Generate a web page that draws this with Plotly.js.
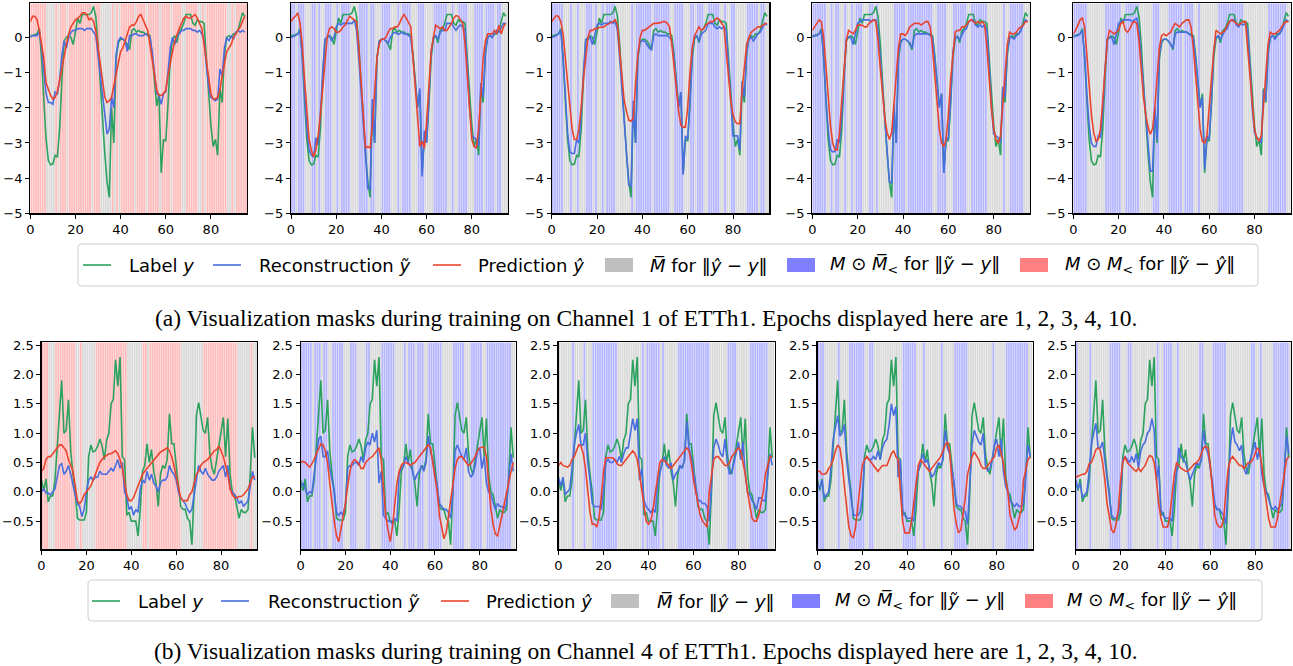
<!DOCTYPE html>
<html><head><meta charset="utf-8">
<script src="https://cdn.plot.ly/plotly-3.0.1.min.js"></script>
<style>html,body{margin:0;padding:0;background:#fff;}#chart{width:1293px;height:666px;}</style>
</head><body><div id="chart"></div>
<script>
// ---------- Row (a): Channel 1 ----------
const labelA = [0.05,0.05,0.08,0.1,0.25,-0.6,-1.8,-2.9,-3.5,-3.62,
 -3.6,-3.35,-3.4,-2.6,-1.2,-0.1,0.0,0.05,0.0,-0.2,
 0.15,0.55,0.4,0.65,0.65,0.65,0.65,0.7,0.88,0.6,
 -0.2,-1.3,-2.4,-3.3,-4.1,-4.55,-2.0,-3.0,-0.6,-0.15,
 -0.05,-0.05,-0.1,-0.2,-0.35,0.2,0.25,0.15,0.2,0.15,
 0.15,0.1,0.1,0.05,-0.5,-1.2,-1.95,-1.6,-3.85,-2.9,
 -2.95,-1.9,-0.6,-0.05,0.05,-0.15,0.2,0.25,0.4,0.65,
 0.65,0.65,0.4,0.35,0.5,0.45,0.45,0.4,-0.6,-1.6,
 -2.5,-3.1,-2.9,-3.35,-1.45,-1.85,-0.5,0.0,0.05,0.0,
 0.1,0.1,0.2,0.45,0.7,0.6];
const reconA1 = [0.0,0.05,0.05,0.05,0.15,-0.3,-1.0,-1.6,-1.85,-1.85,
 -1.9,-1.55,-1.6,-1.2,-0.5,-0.1,-0.3,0.0,0.15,0.2,
 0.2,0.25,0.25,0.25,0.2,0.25,0.25,0.25,0.15,0.05,
 -0.5,-1.1,-1.7,-2.3,-2.75,-2.6,-1.7,-2.0,-0.5,-0.1,
 0.0,-0.05,-0.1,-0.4,0.05,0.05,0.1,0.1,0.05,0.05,
 0.05,0.1,0.05,0.0,-0.4,-1.0,-1.6,-1.65,-1.9,-1.6,
 -1.55,-1.0,-0.3,0.0,-0.2,0.05,0.1,0.2,0.2,0.25,
 0.25,0.25,0.2,0.2,0.15,0.2,0.1,-0.1,-0.8,-1.4,
 -1.7,-1.75,-1.8,-1.75,-0.9,-1.1,-0.3,0.0,-0.1,0.05,
 -0.05,0.15,0.2,0.15,0.2,0.15];
const predA1 = [0.45,0.6,0.6,0.5,0.2,-0.2,-0.6,-1.3,-1.5,-1.65,
 -1.75,-1.7,-1.55,-1.2,-0.8,-0.5,-0.2,0.1,0.3,0.4,
 0.5,0.55,0.6,0.7,0.7,0.65,0.5,0.55,0.45,0.2,
 -0.3,-0.8,-1.3,-1.7,-1.85,-1.8,-1.7,-1.4,-1.0,-0.7,
 -0.4,-0.3,-0.1,0.05,0.3,0.35,0.35,0.45,0.6,0.65,
 0.5,0.35,0.2,-0.2,-0.6,-1.1,-1.5,-1.65,-1.65,-1.6,
 -1.5,-1.1,-0.7,-0.4,-0.1,0.1,0.25,0.4,0.55,0.6,
 0.55,0.55,0.6,0.65,0.55,0.4,0.25,-0.2,-0.7,-1.2,
 -1.6,-1.75,-1.75,-1.7,-1.5,-1.1,-0.7,-0.4,-0.3,-0.2,
 0.0,0.1,0.2,0.3,0.45,0.6];
const reconA2 = [0.0,0.02,0.05,0.1,0.2,-0.5,-1.7,-2.6,-3.2,-3.35,
 -3.4,-2.85,-3.05,-2.2,-1.0,-0.05,0.0,0.05,-0.1,0.0,
 0.3,0.4,0.35,0.4,0.4,0.4,0.4,0.4,0.5,0.2,
 -0.6,-1.5,-2.5,-3.5,-4.3,-4.3,-1.75,-3.0,-0.6,-0.1,
 -0.05,-0.05,-0.1,-0.15,0.0,0.1,0.15,0.1,0.1,0.15,
 0.1,0.1,0.05,0.0,-0.6,-1.4,-2.0,-1.45,-3.95,-2.65,
 -3.0,-1.8,-0.4,0.0,0.05,-0.05,0.15,0.2,0.2,0.4,
 0.4,0.4,0.3,0.2,0.3,0.35,0.3,0.2,-0.8,-2.0,
 -2.8,-2.85,-2.9,-3.1,-1.3,-1.7,-0.4,0.0,0.05,0.0,
 0.1,0.2,0.15,0.3,0.4,0.4];
const predA2 = [0.45,0.55,0.6,0.7,0.4,-0.2,-1.2,-2.2,-2.9,-3.2,
 -3.4,-3.2,-2.8,-2.2,-1.4,-0.6,0.0,0.25,0.3,0.25,
 0.15,0.15,0.2,0.3,0.35,0.5,0.6,0.55,0.5,0.45,
 -0.3,-1.2,-2.2,-3.15,-3.1,-3.15,-2.5,-1.5,-0.6,-0.2,
 -0.05,-0.05,0.0,0.15,0.25,0.25,0.3,0.3,0.4,0.55,
 0.65,0.55,0.4,0.3,-0.6,-1.5,-2.4,-3.1,-2.95,-3.15,
 -2.4,-1.3,-0.4,0.0,0.35,0.3,0.25,0.3,0.2,0.2,
 0.3,0.4,0.55,0.62,0.6,0.5,0.4,-0.2,-1.1,-2.2,
 -2.9,-3.1,-3.15,-2.6,-1.6,-0.6,-0.1,0.1,0.1,0.1,
 0.2,0.1,0.35,0.1,0.3,0.4];
const reconA3 = [0.0,0.02,0.05,0.1,0.2,-0.5,-1.7,-2.7,-3.25,-3.3,
 -3.3,-2.9,-3.0,-2.2,-1.0,-0.05,-0.05,0.0,-0.2,0.05,
 0.35,0.4,0.35,0.4,0.4,0.4,0.45,0.4,0.45,0.2,
 -0.6,-1.5,-2.5,-3.4,-4.2,-4.25,-1.8,-3.0,-0.5,-0.1,
 -0.1,-0.1,-0.2,-0.3,-0.35,0.05,0.1,0.05,0.05,0.05,
 0.05,0.05,0.0,-0.1,-0.6,-1.3,-2.0,-1.55,-3.9,-2.8,
 -2.9,-1.8,-0.4,0.0,0.05,-0.1,0.1,0.15,0.2,0.4,
 0.4,0.4,0.3,0.25,0.3,0.25,0.3,0.2,-0.8,-2.0,
 -2.8,-2.8,-2.8,-3.2,-1.25,-1.7,-0.4,-0.05,0.0,-0.1,
 0.0,0.1,0.15,0.3,0.4,0.35];
const predA3 = [0.45,0.55,0.62,0.6,0.45,0.1,-0.6,-1.4,-2.1,-2.6,
 -2.9,-2.9,-2.6,-2.0,-1.2,-0.5,0.0,0.2,0.2,0.25,
 0.25,0.28,0.3,0.3,0.35,0.38,0.4,0.45,0.5,0.35,
 -0.4,-1.2,-1.8,-2.1,-2.35,-2.38,-2.3,-1.3,-0.5,0.0,
 0.2,0.2,0.25,0.3,0.35,0.4,0.4,0.4,0.42,0.45,
 0.45,0.4,0.3,-0.2,-0.8,-1.5,-2.1,-2.5,-2.55,-2.55,
 -2.0,-1.0,-0.3,0.05,0.2,0.3,0.2,0.25,0.35,0.4,
 0.45,0.45,0.5,0.55,0.5,0.4,0.3,-0.4,-1.2,-1.8,
 -2.2,-2.4,-2.45,-2.45,-1.5,-0.8,-0.2,0.0,0.15,0.2,
 0.25,0.3,0.3,0.35,0.38,0.4];
const reconA4 = [0.0,0.05,0.05,0.1,0.2,-0.5,-1.7,-2.6,-3.2,-3.25,
 -3.25,-2.9,-3.0,-2.2,-1.0,-0.05,0.0,0.0,-0.2,0.1,
 0.4,0.45,0.5,0.5,0.5,0.5,0.45,0.5,0.5,0.2,
 -0.6,-1.5,-2.5,-3.4,-4.1,-4.15,-1.9,-3.0,-0.5,-0.1,
 -0.05,-0.05,-0.1,-0.15,-0.3,0.05,0.1,0.1,0.1,0.1,
 0.1,0.1,0.05,0.0,-0.6,-1.3,-2.0,-1.6,-3.85,-2.85,
 -2.9,-1.8,-0.4,0.0,0.0,-0.05,0.1,0.2,0.25,0.45,
 0.5,0.5,0.35,0.3,0.35,0.3,0.35,0.2,-0.8,-2.0,
 -2.75,-2.8,-2.85,-3.0,-1.4,-1.7,-0.4,0.0,0.0,-0.05,
 0.05,0.1,0.2,0.35,0.5,0.45];
const predA4 = [0.2,0.3,0.4,0.5,0.45,0.0,-0.8,-1.7,-2.5,-3.0,
 -3.2,-3.2,-2.7,-1.8,-0.8,-0.1,0.2,0.15,0.1,0.2,
 0.35,0.35,0.35,0.3,0.3,0.4,0.45,0.5,0.45,-0.1,
 -0.9,-1.7,-2.3,-2.7,-2.9,-2.7,-2.0,-1.1,-0.3,0.1,
 0.1,0.05,0.15,0.3,0.35,0.4,0.4,0.4,0.35,0.4,
 0.45,0.45,0.3,-0.3,-1.1,-1.9,-2.6,-3.0,-3.1,-2.9,
 -2.2,-1.2,-0.4,0.15,0.2,0.2,0.3,0.3,0.35,0.45,
 0.5,0.45,0.4,0.45,0.4,0.45,0.35,-0.3,-1.2,-2.0,
 -2.6,-2.9,-3.0,-2.8,-1.9,-0.9,-0.2,0.15,0.1,0.1,
 0.15,0.25,0.3,0.35,0.45,0.45];
const reconA5 = [0.0,0.05,0.05,0.1,0.2,-0.5,-1.6,-2.5,-3.0,-3.1,
 -3.1,-2.8,-2.85,-2.1,-0.9,-0.05,0.0,0.0,-0.2,0.1,
 0.4,0.45,0.5,0.5,0.5,0.5,0.45,0.5,0.55,0.2,
 -0.6,-1.5,-2.4,-3.2,-3.8,-3.8,-2.0,-2.9,-0.5,-0.1,
 -0.05,-0.05,-0.1,-0.2,-0.3,0.1,0.15,0.15,0.15,0.15,
 0.15,0.1,0.05,0.0,-0.6,-1.3,-2.0,-1.7,-3.75,-2.8,
 -2.9,-1.8,-0.4,0.0,0.05,-0.05,0.1,0.2,0.25,0.45,
 0.5,0.5,0.35,0.3,0.4,0.35,0.4,0.2,-0.8,-2.0,
 -2.7,-2.85,-2.9,-3.0,-1.5,-1.8,-0.4,0.0,0.05,-0.05,
 0.05,0.1,0.2,0.35,0.5,0.45];
const predA5 = [0.1,0.2,0.35,0.5,0.55,0.3,-0.5,-1.4,-2.2,-2.7,
 -2.95,-2.9,-2.6,-1.8,-0.8,-0.1,0.2,0.15,0.1,0.15,
 0.2,0.4,0.45,0.2,0.15,0.25,0.4,0.45,0.4,-0.1,
 -0.9,-1.7,-2.2,-2.55,-2.75,-2.6,-2.0,-1.1,-0.3,0.05,
 0.1,0.05,0.1,0.15,0.3,0.4,0.35,0.3,0.4,0.45,
 0.5,0.5,0.3,-0.3,-1.1,-1.9,-2.6,-2.95,-3.0,-2.8,
 -2.1,-1.2,-0.4,0.2,0.15,0.1,0.15,0.2,0.35,0.45,
 0.5,0.45,0.4,0.35,0.4,0.45,0.45,-0.3,-1.2,-2.0,
 -2.6,-2.85,-2.95,-2.8,-1.9,-0.9,-0.2,0.15,0.1,0.1,
 0.15,0.2,0.3,0.4,0.45,0.45];

// ---------- Row (b): Channel 4 ----------
const labelB = [0.2,0.02,0.22,-0.17,-0.07,-0.07,0.2,0.8,1.3,1.9,
 1.0,1.05,1.57,0.7,0.3,0.0,-0.45,-0.48,-0.48,-0.48,
 -0.35,0.6,0.8,0.68,0.7,0.78,0.9,0.78,0.55,0.88,
 1.0,1.5,1.58,2.25,1.8,2.3,0.6,0.55,-0.4,-0.35,
 -0.5,-0.5,-0.5,-0.75,-0.3,0.35,0.45,0.82,0.5,0.72,
 0.35,0.15,-0.25,0.3,0.45,0.4,0.55,1.33,0.82,0.82,
 0.5,0.1,-0.25,-0.3,-0.3,-0.45,-0.5,-0.9,0.0,1.3,
 1.52,1.25,1.05,1.0,1.27,0.65,0.4,0.3,0.55,0.8,
 1.0,1.27,0.6,1.25,0.3,0.0,-0.05,-0.25,-0.45,-0.3,
 -0.35,-0.35,-0.3,0.3,1.1,0.58];
const reconB1 = [0.0,0.05,-0.02,-0.02,-0.05,0.0,0.05,0.25,0.45,0.48,
 0.3,0.35,0.45,0.3,0.1,-0.05,-0.2,-0.25,-0.42,-0.3,
 0.0,0.2,0.25,0.2,0.25,0.25,0.35,0.3,0.3,0.3,
 0.35,0.4,0.35,0.45,0.55,0.4,0.5,0.0,-0.1,-0.3,
 -0.25,-0.4,-0.3,-0.35,0.05,0.2,0.15,0.35,0.2,0.3,
 0.15,0.1,0.0,0.15,0.2,0.2,0.25,0.45,0.35,0.3,
 0.2,0.0,-0.1,-0.15,-0.2,-0.3,-0.35,-0.3,0.0,0.2,
 0.45,0.35,0.3,0.4,0.3,0.25,0.2,0.2,0.25,0.35,
 0.4,0.45,0.25,0.45,0.05,0.0,-0.05,-0.1,-0.2,-0.15,
 -0.25,-0.2,-0.15,0.1,0.35,0.2];
const predB1 = [0.35,0.4,0.55,0.6,0.6,0.65,0.7,0.75,0.8,0.8,
 0.75,0.7,0.55,0.45,0.35,0.1,-0.15,-0.2,-0.15,-0.05,
 0.0,0.05,0.1,0.2,0.3,0.4,0.5,0.55,0.6,0.62,
 0.65,0.65,0.68,0.7,0.65,0.55,0.4,0.15,-0.05,-0.15,
 -0.15,-0.1,0.0,0.1,0.2,0.3,0.35,0.4,0.45,0.5,
 0.55,0.6,0.65,0.68,0.7,0.72,0.75,0.7,0.6,0.45,
 0.25,0.05,-0.1,-0.15,-0.15,-0.15,-0.05,0.0,0.15,0.3,
 0.35,0.45,0.5,0.52,0.55,0.6,0.65,0.7,0.72,0.78,
 0.7,0.6,0.45,0.3,0.05,-0.05,-0.1,-0.1,-0.08,-0.08,
 -0.05,0.0,0.05,0.15,0.25,0.25];
const reconB2 = [0.1,0.15,0.05,-0.05,0.0,-0.02,0.3,0.6,0.9,0.95,
 0.6,0.6,0.7,0.4,0.2,0.0,-0.35,-0.4,-0.35,-0.4,
 -0.2,0.4,0.45,0.45,0.5,0.5,0.45,0.6,0.5,0.75,
 0.85,0.8,1.0,0.85,1.05,0.15,0.35,-0.4,-0.45,-0.5,
 -0.5,-0.55,-0.45,-0.5,0.3,0.4,0.45,0.6,0.5,0.45,
 0.35,0.2,0.3,0.35,0.45,0.35,0.5,0.95,0.7,0.55,
 0.3,0.1,-0.2,-0.25,-0.3,-0.3,-0.35,-0.45,0.0,0.7,
 0.8,0.7,0.6,0.55,0.75,0.35,0.25,0.3,0.45,0.7,
 0.75,0.4,0.6,0.15,0.0,-0.05,-0.2,-0.3,-0.2,-0.25,
 -0.25,-0.3,-0.2,0.2,0.65,0.35];
const predB2 = [0.5,0.52,0.5,0.45,0.42,0.48,0.55,0.65,0.75,0.82,
 0.8,0.7,0.5,0.2,-0.2,-0.5,-0.75,-0.85,-0.65,-0.45,
 -0.2,0.1,0.35,0.5,0.55,0.52,0.48,0.4,0.4,0.5,
 0.55,0.58,0.6,0.65,0.7,0.75,0.55,0.0,-0.4,-0.65,
 -0.85,-0.6,-0.2,0.15,0.35,0.45,0.5,0.5,0.48,0.45,
 0.48,0.5,0.55,0.6,0.65,0.7,0.75,0.8,0.75,0.5,
 0.2,0.0,-0.4,-0.6,-0.8,-0.7,-0.4,-0.1,0.2,0.4,
 0.55,0.6,0.6,0.55,0.5,0.45,0.48,0.55,0.6,0.7,
 0.75,0.76,0.76,0.6,0.1,-0.3,-0.55,-0.72,-0.75,-0.6,
 -0.4,-0.2,0.0,0.2,0.35,0.5];
const reconB3 = [0.25,0.1,0.25,-0.05,0.0,0.05,0.4,0.8,1.0,1.15,
 0.8,0.8,1.0,0.5,0.2,-0.2,-0.25,-0.25,-0.25,-0.3,
 0.0,0.5,0.55,0.5,0.5,0.55,0.5,0.6,0.5,0.65,
 0.75,0.75,1.0,1.25,1.05,1.25,0.2,0.4,-0.15,-0.25,
 -0.3,-0.35,-0.3,-0.35,0.1,0.3,0.5,0.6,0.45,0.4,
 0.5,0.2,0.3,0.35,0.45,0.4,0.55,1.2,0.75,0.6,
 0.35,0.15,-0.15,-0.15,-0.2,-0.2,-0.25,-0.5,0.1,0.75,
 0.9,0.8,0.65,0.6,0.9,0.5,0.3,0.35,0.5,0.7,
 0.85,0.55,0.85,0.3,0.0,-0.05,-0.15,-0.2,-0.3,-0.1,
 -0.1,-0.15,-0.15,0.3,0.65,0.45];
const predB3 = [0.45,0.5,0.45,0.43,0.42,0.45,0.55,0.6,0.72,0.8,
 0.78,0.65,0.4,0.0,-0.35,-0.55,-0.55,-0.6,-0.45,-0.1,
 0.35,0.58,0.58,0.58,0.58,0.55,0.48,0.45,0.45,0.5,
 0.55,0.6,0.65,0.7,0.65,0.55,0.3,0.0,-0.3,-0.5,
 -0.55,-0.5,-0.3,0.0,0.3,0.5,0.55,0.52,0.5,0.45,
 0.4,0.45,0.5,0.55,0.6,0.65,0.72,0.75,0.7,0.5,
 0.2,0.0,-0.2,-0.4,-0.5,-0.55,-0.6,0.0,0.3,0.55,
 0.6,0.6,0.55,0.5,0.45,0.45,0.5,0.6,0.65,0.7,
 0.75,0.7,0.5,0.3,0.0,-0.2,-0.45,-0.5,-0.5,-0.4,
 -0.2,0.0,0.3,0.45,0.6,0.6];
const reconB4 = [0.15,0.05,0.2,-0.1,-0.05,0.0,0.4,0.9,1.1,1.3,
 0.95,1.0,1.15,0.55,0.2,-0.1,-0.4,-0.4,-0.4,-0.35,
 -0.1,0.55,0.6,0.55,0.55,0.6,0.55,0.7,0.55,0.75,
 0.85,0.9,1.15,1.5,1.3,1.45,0.25,0.55,-0.3,-0.4,
 -0.45,-0.45,-0.45,-0.5,0.1,0.35,0.5,0.65,0.5,0.55,
 0.4,0.25,0.3,0.4,0.5,0.45,0.55,1.05,0.75,0.65,
 0.4,0.15,-0.2,-0.25,-0.25,-0.3,-0.35,-0.55,0.1,0.8,
 1.05,0.95,0.85,0.8,1.0,0.45,0.35,0.4,0.55,0.8,
 0.9,0.6,0.9,0.35,0.1,0.0,-0.15,-0.2,-0.25,-0.2,
 -0.25,-0.25,-0.2,0.3,0.8,0.6];
const predB4 = [0.35,0.35,0.3,0.3,0.32,0.4,0.45,0.55,0.7,0.8,
 0.75,0.5,0.1,-0.3,-0.6,-0.75,-0.78,-0.6,-0.3,0.1,
 0.45,0.55,0.6,0.55,0.5,0.45,0.4,0.35,0.4,0.45,
 0.45,0.45,0.55,0.65,0.7,0.6,0.55,0.0,-0.5,-0.7,
 -0.7,-0.7,-0.5,-0.2,0.1,0.45,0.55,0.5,0.45,0.4,
 0.35,0.4,0.45,0.5,0.55,0.6,0.7,0.8,0.85,0.7,
 0.2,-0.3,-0.55,-0.7,-0.65,-0.4,-0.1,0.3,0.45,0.6,
 0.68,0.62,0.55,0.45,0.4,0.4,0.45,0.5,0.55,0.6,
 0.75,0.8,0.65,0.5,0.2,0.0,-0.4,-0.55,-0.65,-0.6,
 -0.45,-0.3,0.2,0.4,0.55,0.6];
const reconB5 = [0.2,0.05,0.15,-0.1,-0.05,0.0,0.35,0.8,1.0,1.17,
 0.75,0.75,0.85,0.55,0.2,-0.1,-0.4,-0.45,-0.45,-0.4,
 -0.1,0.55,0.6,0.55,0.5,0.6,0.5,0.65,0.4,0.7,
 0.8,0.85,1.0,1.05,1.25,1.05,0.2,0.45,-0.3,-0.4,
 -0.45,-0.45,-0.45,-0.5,0.1,0.35,0.75,0.6,0.55,0.5,
 0.35,0.2,0.3,0.4,0.5,0.45,0.55,1.05,0.75,0.65,
 0.4,0.15,-0.2,-0.3,-0.3,-0.35,-0.4,-0.55,0.1,0.8,
 1.1,0.85,0.8,0.7,0.8,0.4,0.3,0.45,0.55,0.7,
 0.85,0.55,0.75,0.3,0.1,0.0,-0.15,-0.25,-0.3,-0.25,
 -0.3,-0.25,-0.2,0.3,0.95,0.65];
const predB5 = [0.25,0.27,0.28,0.3,0.3,0.35,0.48,0.5,0.6,0.72,
 0.75,0.7,0.5,0.2,-0.2,-0.45,-0.65,-0.7,-0.55,-0.3,
 0.2,0.5,0.6,0.5,0.45,0.42,0.38,0.35,0.4,0.35,
 0.4,0.45,0.55,0.62,0.6,0.5,0.2,-0.2,-0.45,-0.6,
 -0.6,-0.6,-0.4,0.0,0.3,0.5,0.45,0.4,0.38,0.35,
 0.35,0.4,0.45,0.48,0.5,0.55,0.65,0.75,0.78,0.75,
 0.45,0.0,-0.4,-0.55,-0.6,-0.6,-0.45,0.0,0.4,0.55,
 0.6,0.55,0.5,0.45,0.45,0.4,0.45,0.5,0.5,0.55,
 0.65,0.75,0.7,0.45,0.1,-0.2,-0.45,-0.6,-0.6,-0.6,
 -0.45,-0.2,0.05,0.35,0.55,0.6];

// ---------- Masks: 0 = M-bar (gray), 1 = M (.) M<-bar (blue), 2 = M (.) M< (red) ----------
const maskA1 = [2,2,2,2,2,2,2,0,0,0, 0,2,0,2,2,2,0,2,2,2, 2,2,2,2,2,2,2,0,2,2, 2,0,0,0,0,0,2,0,2,0,
 2,2,2,2,2,2,0,2,2,2, 2,0,2,2,2,2,2,0,2,2, 2,2,0,2,2,2,2,0,0,2, 2,2,2,2,0,0,2,0,2,2,
 2,2,2,2,2,2,2,0,0,2, 0,2,2,2,2,2];
const maskA2 = [1,1,0,1,1,1,0,0,0,1, 1,0,1,0,0,1,1,1,0,0, 1,0,1,1,1,1,0,0,0,0, 1,1,1,1,0,1,1,0,0,0,
 1,1,1,1,0,0,0,1,0,1, 1,1,1,0,0,0,1,1,1,0, 0,0,0,1,1,1,1,1,1,0, 0,1,0,0,1,1,1,1,0,0,
 0,1,1,1,1,0,1,1,1,1, 0,1,1,0,0,0];
const maskA3 = [1,1,1,1,1,0,0,0,1,0, 0,1,0,0,0,1,1,1,0,1, 0,0,1,0,1,1,1,1,0,0, 0,0,0,0,0,1,0,1,1,1,
 1,1,1,1,0,1,1,1,1,1, 1,1,0,0,1,1,1,1,0,0, 0,1,1,0,1,1,1,0,0,1, 1,1,1,1,0,0,1,0,0,1,
 1,0,0,0,0,0,1,1,1,1, 1,0,1,1,0,0];
const maskA4 = [1,1,1,1,1,1,0,0,1,0, 1,1,0,0,1,0,0,1,0,1, 1,1,0,0,0,1,1,0,1,0, 0,0,0,0,0,0,1,1,1,1,
 1,0,1,1,1,1,1,1,1,1, 1,1,1,0,0,1,1,1,1,0, 0,0,1,1,1,1,1,1,0,0, 1,1,1,1,1,1,1,0,0,0,
 0,0,0,0,1,0,0,1,1,1, 1,1,1,0,0,0];
const maskA5 = [1,1,1,1,1,1,0,0,0,0, 0,0,0,0,1,1,1,1,1,1, 1,0,0,1,1,1,1,1,1,0, 0,0,0,0,0,1,1,1,0,0,
 0,0,1,1,1,1,1,1,0,1, 1,1,1,0,0,1,0,0,0,0, 0,0,0,0,1,1,1,1,1,1, 1,1,1,1,1,0,0,0,0,0,
 0,0,0,0,0,0,1,1,1,1, 1,1,1,1,0,0];
const maskB1 = [2,2,2,0,0,0,2,2,2,2, 2,2,2,2,2,0,0,2,0,0, 0,0,0,0,2,2,2,2,2,2, 2,2,2,2,2,2,2,2,0,0,
 0,0,0,0,0,2,2,0,2,2, 2,2,2,2,2,2,2,2,2,2, 2,2,0,0,0,0,0,0,0,0, 0,0,2,2,2,2,2,2,2,2,
 2,2,2,2,2,2,2,0,0,0, 0,0,0,2,0,0];
const maskB2 = [1,1,1,1,1,0,1,1,1,0, 1,1,0,0,1,1,1,1,1,0, 0,0,1,1,1,0,0,0,0,1, 1,0,0,0,0,0,1,1,1,1,
 1,1,0,0,0,0,1,0,1,1, 1,0,1,1,1,0,0,1,1,1, 1,1,1,0,0,0,0,0,1,1, 1,1,1,0,0,0,1,1,1,1,
 1,0,0,1,1,1,1,1,1,1, 1,1,1,1,0,0];
const maskB3 = [0,0,0,0,0,0,1,0,0,0, 0,1,0,0,0,1,1,1,1,1, 1,1,1,1,1,1,0,0,0,0, 0,0,0,0,0,0,0,1,0,1,
 1,1,1,1,1,0,1,0,0,0, 0,0,0,1,1,1,1,1,1,1, 1,1,1,1,1,1,1,0,0,0, 0,0,0,0,0,1,1,1,1,0,
 0,0,0,0,0,1,1,1,1,1, 1,1,1,0,0,0];
const maskB4 = [1,1,1,0,0,0,0,0,0,1, 0,0,0,0,1,1,1,1,1,1, 1,0,0,1,1,0,0,0,0,0, 0,0,0,0,0,0,0,0,1,1,
 1,1,1,1,0,0,0,1,0,0, 0,0,0,0,0,1,0,0,0,0, 0,1,1,1,1,1,1,0,0,0, 0,0,0,0,0,0,0,0,1,0,
 0,0,0,0,1,1,1,1,1,1, 1,1,1,1,0,0];
const maskB5 = [1,0,0,0,0,0,1,0,0,0, 0,0,0,0,0,1,1,1,1,1, 0,0,0,1,1,0,0,0,0,0, 0,0,0,0,0,0,1,0,0,1,
 1,1,1,0,0,1,0,0,0,0, 0,0,0,0,0,1,1,0,0,0, 0,1,1,1,1,1,1,0,0,0, 0,0,0,0,0,0,0,0,1,1,
 0,0,1,0,0,0,0,0,1,1, 1,1,1,1,1,0];

// tick labels
const xTickVals = [0,20,40,60,80];
const xTickText = ['0','20','40','60','80'];
const yTickValsA = [-5,-4,-3,-2,-1,0];
const yTickTextA = ['\u22125','\u22124','\u22123','\u22122','\u22121','0'];
const yTickValsB = [-0.5,0.0,0.5,1.0,1.5,2.0,2.5];
const yTickTextB = ['\u22120.5','0.0','0.5','1.0','1.5','2.0','2.5'];

const captionA = '(a) Visualization masks during training on Channel 1 of ETTh1. Epochs displayed here are 1, 2, 3, 4, 10.';
const captionB = '(b) Visualization masks during training on Channel 4 of ETTh1. Epochs displayed here are 1, 2, 3, 4, 10.';
const legendLabels = ['Label <i>y</i>', 'Reconstruction <i>\u1EF9</i>', 'Prediction <i>\u0177</i>',
  '<i>M\u0305</i> for \u2016<i>\u0177</i> \u2212 <i>y</i>\u2016',
  '<i>M</i> \u2299 <i>M\u0305</i><sub>&lt;</sub> for \u2016<i>\u1EF9</i> \u2212 <i>y</i>\u2016',
  '<i>M</i> \u2299 <i>M</i><sub>&lt;</sub> for \u2016<i>\u1EF9</i> \u2212 <i>\u0177</i>\u2016'];

// ---------- layout geometry (px) ----------
const W = 1293, H = 666;
const fx = p => p / W, fy = p => 1 - p / H;
const colX = [[[30.3,247],[291,508],[551.7,769.3],[812.3,1030],[1073.3,1290.7]],
              [[41.5,257],[300.7,515.5],[558.5,774.5],[817.5,1032.5],[1075.7,1291]]];
const rowY = [[3.3,213.3],[342.3,549.3]];
const yRanges = [[-5,0.97],[-0.98,2.55]];
const C = {green:'#2ca25f', blue:'#4a6ee0', red:'#e8442e',
  mgray:'#d9d9d9', mblue:'#b4b4ff', mred:'#ffbaba',
  lgray:'#bfbfbf', lblue:'#8080ff', lred:'#ff8080'};
const maskCol = [C.mgray, C.mblue, C.mred];

const rows = [
  {label: labelA, recon: [reconA1,reconA2,reconA3,reconA4,reconA5], pred: [predA1,predA2,predA3,predA4,predA5],
   mask: [maskA1,maskA2,maskA3,maskA4,maskA5], yt: [yTickValsA, yTickTextA]},
  {label: labelB, recon: [reconB1,reconB2,reconB3,reconB4,reconB5], pred: [predB1,predB2,predB3,predB4,predB5],
   mask: [maskB1,maskB2,maskB3,maskB4,maskB5], yt: [yTickValsB, yTickTextB]}
];

const traces = [];
const layout = {width: W, height: H, margin: {l:0,r:0,t:0,b:0}, paper_bgcolor:'#fff', plot_bgcolor:'#fff',
  showlegend:false, barmode:'overlay', hovermode:false, shapes:[], annotations:[]};
const tf = {family:'DejaVu Sans', size:13, color:'#000'};

rows.forEach((row, r) => {
  const yr = yRanges[r];
  for (let p = 0; p < 5; p++) {
    const k = r*5 + p + 1;
    const xa = 'x' + (k===1?'':k), ya = 'y' + (k===1?'':k);
    const xs = row.label.map((_, i) => i);
    [0,1,2].forEach(cat => {
      const idx = [];
      row.mask[p].forEach((m, i) => { if (m === cat) idx.push(i); });
      if (!idx.length) return;
      traces.push({type:'bar', x: idx, y: idx.map(() => yr[1]-yr[0]), base: yr[0], width: 1, offset: 0,
        marker:{color: maskCol[cat], line:{color:'rgba(255,255,255,0.45)', width:0.6}},
        xaxis: xa, yaxis: ya, hoverinfo:'skip'});
    });
    traces.push({type:'scatter', mode:'lines', x: xs, y: row.label, line:{color:C.green, width:1.6}, xaxis:xa, yaxis:ya});
    traces.push({type:'scatter', mode:'lines', x: xs, y: row.recon[p], line:{color:C.blue, width:1.6}, xaxis:xa, yaxis:ya});
    traces.push({type:'scatter', mode:'lines', x: xs, y: row.pred[p], line:{color:C.red, width:1.6}, xaxis:xa, yaxis:ya});
    const dx = colX[r][p], dy = rowY[r];
    const common = {showline:true, mirror:true, linecolor:'#000', linewidth:1.2, showgrid:false, zeroline:false,
      ticks:'outside', ticklen:4, tickwidth:1, tickcolor:'#000', tickfont: tf, fixedrange:true};
    layout['xaxis' + (k===1?'':k)] = Object.assign({}, common, {domain:[fx(dx[0]), fx(dx[1])], range:[0,96],
      anchor: ya, tickmode:'array', tickvals: xTickVals, ticktext: xTickText});
    layout['yaxis' + (k===1?'':k)] = Object.assign({}, common, {domain:[fy(dy[1]), fy(dy[0])], range: yr,
      anchor: xa, tickmode:'array', tickvals: row.yt[0], ticktext: row.yt[1]});
  }
});

// ---------- legends (drawn) ----------
function roundRect(x0,y0,x1,y1,rr){
  const X = v => fx(v).toFixed(5), Y = v => fy(v).toFixed(5);
  return `M${X(x0+rr)},${Y(y0)} L${X(x1-rr)},${Y(y0)} Q${X(x1)},${Y(y0)} ${X(x1)},${Y(y0+rr)} L${X(x1)},${Y(y1-rr)} Q${X(x1)},${Y(y1)} ${X(x1-rr)},${Y(y1)} L${X(x0+rr)},${Y(y1)} Q${X(x0)},${Y(y1)} ${X(x0)},${Y(y1-rr)} L${X(x0)},${Y(y0+rr)} Q${X(x0)},${Y(y0)} ${X(x0+rr)},${Y(y0)} Z`;
}
const legends = [
  {box:[78,244,1258,286], yc:265, handles:[83,213,433,605,787,1020], texts:[127,257,476,648,828,1063], capY:318, cap:captionA},
  {box:[88,580,1262,621], yc:601, handles:[92,221,441,611,792,1025], texts:[136,266,484,655,833,1065], capY:651, cap:captionB}
];
const hcol = [C.green, C.blue, C.red, C.lgray, C.lblue, C.lred];
legends.forEach(L => {
  layout.shapes.push({type:'path', xref:'paper', yref:'paper', path: roundRect(...L.box, 4),
    line:{color:'#cccccc', width:1}, fillcolor:'rgba(255,255,255,0.8)'});
  L.handles.forEach((h, i) => {
    if (i < 3) {
      layout.shapes.push({type:'line', xref:'paper', yref:'paper', x0:fx(h), x1:fx(h+28), y0:fy(L.yc), y1:fy(L.yc),
        line:{color:hcol[i], width:1.6}});
    } else {
      layout.shapes.push({type:'rect', xref:'paper', yref:'paper', x0:fx(h), x1:fx(h+28), y0:fy(L.yc+7), y1:fy(L.yc-7),
        line:{width:0}, fillcolor:hcol[i]});
    }
    layout.annotations.push({xref:'paper', yref:'paper', x:fx(L.texts[i]), y:fy(L.yc), xanchor:'left', yanchor:'middle',
      showarrow:false, text: legendLabels[i], font:{family:'DejaVu Sans', size:18, color:'#000'}});
  });
  layout.annotations.push({xref:'paper', yref:'paper', x:fx(645.5), y:fy(L.capY), xanchor:'center', yanchor:'middle',
    showarrow:false, text: L.cap, font:{family:'Liberation Serif', size:23.5, color:'#000'}});
});

Plotly.newPlot('chart', traces, layout, {staticPlot:true, displayModeBar:false});
</script></body></html>
